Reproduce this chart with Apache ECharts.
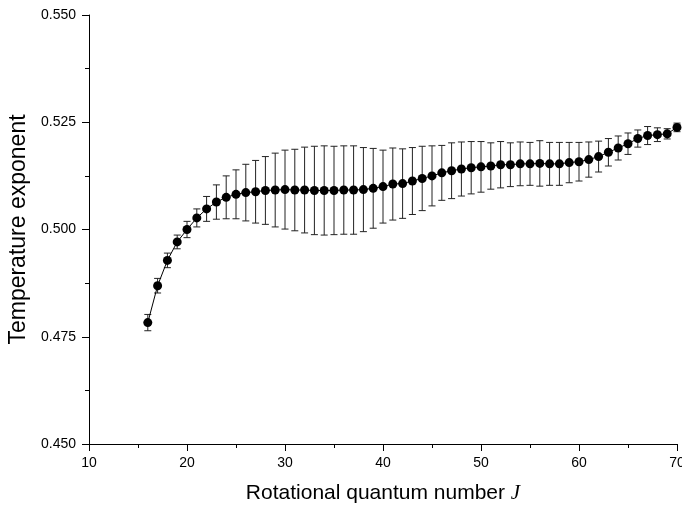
<!DOCTYPE html>
<html>
<head>
<meta charset="utf-8">
<script src="https://cdn.jsdelivr.net/npm/echarts@6/dist/echarts.min.js"></script>
<style>html,body{margin:0;padding:0;background:#fff;}#c{width:682px;height:506px;}</style>
</head>
<body>
<div id="c"></div>
<script>
const J = [16,17,18,19,20,21,22,23,24,25,26,27,28,29,30,31,32,33,34,35,36,37,38,39,40,41,42,43,44,45,46,47,48,49,50,51,52,53,54,55,56,57,58,59,60,61,62,63,64,65,66,67,68,69,70];
const exponent = [0.4783,0.4869,0.4928,0.4971,0.5000,0.5027,0.5048,0.5064,0.5075,0.5082,0.5086,0.5088,0.5091,0.5092,0.5093,0.5092,0.5092,0.5091,0.5091,0.5091,0.5092,0.5092,0.5093,0.5096,0.5100,0.5106,0.5107,0.5113,0.5119,0.5125,0.5132,0.5137,0.5141,0.5144,0.5146,0.5148,0.5151,0.5151,0.5153,0.5153,0.5154,0.5153,0.5153,0.5156,0.5158,0.5163,0.5170,0.5180,0.5190,0.5200,0.5212,0.5219,0.5221,0.5223,0.5238];
const errors = [0.0019,0.0017,0.0017,0.0016,0.0019,0.0021,0.0029,0.0040,0.0050,0.0057,0.0066,0.0073,0.0079,0.0086,0.0092,0.0095,0.0100,0.0103,0.0104,0.0103,0.0103,0.0103,0.0098,0.0093,0.0085,0.0084,0.0081,0.0078,0.0075,0.0070,0.0064,0.0065,0.0063,0.0061,0.0059,0.0054,0.0054,0.0051,0.0051,0.0050,0.0053,0.0050,0.0050,0.0047,0.0045,0.0041,0.0036,0.0032,0.0028,0.0025,0.0020,0.0021,0.0016,0.0012,0.0010];
const xTicks = [10,20,30,40,50,60,70];
const yTicks = [0.450,0.475,0.500,0.525,0.550];

const pts = J.map((j,i)=>[j, exponent[i]]);
const errData = J.map((j,i)=>[j, exponent[i]-errors[i], exponent[i]+errors[i]]);

const chart = echarts.init(document.getElementById('c'), null, {renderer:'canvas'});
const FONT = 'Liberation Sans, Arial, sans-serif';
chart.setOption({
  animation:false,
  backgroundColor:'#fff',
  grid:{left:89, right:5, top:15, bottom:62, containLabel:false, outerBoundsMode:'none'},
  xAxis:{
    type:'value', min:xTicks[0], max:xTicks[xTicks.length-1], interval:10,
    name:'Rotational quantum number {i|J}', nameLocation:'middle', nameGap:39,
    nameTextStyle:{fontFamily:FONT, fontSize:21, color:'#000',
      rich:{i:{fontFamily:'Liberation Serif, Times New Roman, serif', fontStyle:'italic', fontSize:21, color:'#000'}}},
    axisLine:{show:true, lineStyle:{color:'#000', width:1}},
    axisTick:{show:true, inside:false, length:7, lineStyle:{color:'#000'}},
    minorTick:{show:true, splitNumber:2, length:4, lineStyle:{color:'#000'}},
    axisLabel:{fontFamily:FONT, fontSize:14, color:'#000', margin:12, showMaxLabel:true, showMinLabel:true},
    splitLine:{show:false}
  },
  yAxis:{
    type:'value', min:yTicks[0], max:yTicks[yTicks.length-1], interval:0.025,
    name:'Temperature exponent', nameLocation:'middle', nameGap:56,
    nameTextStyle:{fontFamily:FONT, fontSize:23, color:'#000'},
    axisLine:{show:true, lineStyle:{color:'#000', width:1}},
    axisTick:{show:true, inside:false, length:7, lineStyle:{color:'#000'}},
    minorTick:{show:true, splitNumber:2, length:4, lineStyle:{color:'#000'}},
    axisLabel:{fontFamily:FONT, fontSize:14, color:'#000', margin:13, formatter:v=>v.toFixed(3)},
    splitLine:{show:false}
  },
  series:[
    {
      type:'custom', name:'err', data:errData, z:2, clip:false,
      renderItem:(params, api)=>{
        const x = api.value(0);
        const lo = api.coord([x, api.value(1)]);
        const hi = api.coord([x, api.value(2)]);
        const w = 3.5;
        const st = {stroke:'#222', lineWidth:1};
        return {type:'group', children:[
          {type:'line', shape:{x1:lo[0], y1:lo[1], x2:hi[0], y2:hi[1]}, style:st},
          {type:'line', shape:{x1:lo[0]-w, y1:lo[1], x2:lo[0]+w, y2:lo[1]}, style:st},
          {type:'line', shape:{x1:hi[0]-w, y1:hi[1], x2:hi[0]+w, y2:hi[1]}, style:st}
        ]};
      }
    },
    {
      type:'line', data:pts, z:3, clip:false,
      symbol:'circle', symbolSize:9,
      lineStyle:{color:'#000', width:1},
      itemStyle:{color:'#000', borderWidth:0}
    }
  ]
});
</script>
</body>
</html>
